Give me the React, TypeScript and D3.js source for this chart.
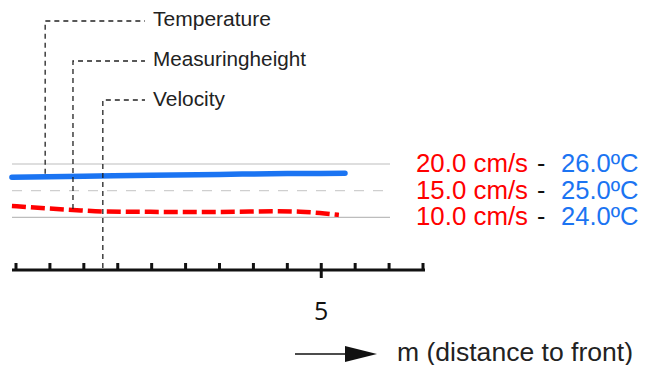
import React from "react";
import * as d3 from "d3";

const W = 652;
const H = 365;

// x axis ticks (metres)
const xTicks = [0.5, 1, 1.5, 2, 2.5, 3, 3.5, 4, 4.5, 5, 5.5, 6, 6.5];
const xMajorTicks = [5];
const xTickLabels = ["5"];
const xAxisTitle = "m (distance to front)";

// Right-hand reference labels
const velocityLevels = [20, 15, 10];
const temperatureLevels = [26, 25, 24];

// Series: temperature (°C) vs distance (m)
const tempX = [0.44, 1.5, 2.5, 3.5, 4.5, 5.35];
const tempY = [25.5, 25.54, 25.58, 25.61, 25.64, 25.65];

// Series: velocity (cm/s) vs distance (m)
const velX = [0.44, 0.93, 1.34, 1.78, 2.48, 3.21, 3.95, 4.29, 4.69, 4.98, 5.26];
const velY = [12.13, 11.7, 11.38, 11.1, 11.02, 11.0, 11.08, 11.15, 11.05, 10.8, 10.44];

// Leader annotations
const leaderNames = ["Temperature", "Measuringheight", "Velocity"];
const leaderX = [0.93, 1.34, 1.78];
const leaderWidths = [118, 153, 72];

export default function App() {
  const x = d3.scaleLinear().domain([0.5, 6.5]).range([16, 423]);
  const yTemp = d3.scaleLinear().domain([24, 26]).range([217.3, 164]);
  const yVel = d3.scaleLinear().domain([10, 20]).range([217.3, 164]);

  const tempData = tempX.map((v, i) => [v, tempY[i]] as [number, number]);
  const velData = velX.map((v, i) => [v, velY[i]] as [number, number]);

  const tempLine = d3
    .line<[number, number]>()
    .x((d) => x(d[0]))
    .y((d) => yTemp(d[1]))
    .curve(d3.curveMonotoneX);
  const velLine = d3
    .line<[number, number]>()
    .x((d) => x(d[0]))
    .y((d) => yVel(d[1]))
    .curve(d3.curveMonotoneX);

  const axisY = 270;
  const font = "Liberation Sans, Arial, sans-serif";

  const interp = (xs: number[], ys: number[], v: number) => {
    for (let i = 0; i < xs.length - 1; i++) {
      if (v >= xs[i] && v <= xs[i + 1]) {
        const t = (v - xs[i]) / (xs[i + 1] - xs[i]);
        return ys[i] + t * (ys[i + 1] - ys[i]);
      }
    }
    return ys[0];
  };
  const leaderBottom = [
    yTemp(interp(tempX, tempY, leaderX[0])) - 3,
    yVel(interp(velX, velY, leaderX[1])) - 1,
    axisY - 2,
  ];
  const leaderTop = [21, 61, 100];
  const leaderBase = [26, 66, 106];

  return (
    <svg
      width={W}
      height={H}
      style={{ position: "absolute", left: 0, top: 0, background: "#fff" }}
    >
      {/* grid lines */}
      {velocityLevels.map((v, i) => (
        <line
          key={"g" + i}
          x1={12}
          x2={390}
          y1={yVel(v)}
          y2={yVel(v)}
          stroke={i === 1 ? "#cfcfcf" : "#bdbdbd"}
          strokeWidth={1.2}
          strokeDasharray={i === 1 ? "10,9" : undefined}
        />
      ))}

      {/* temperature line */}
      <path
        d={tempLine(tempData) || ""}
        fill="none"
        stroke="#1b74f2"
        strokeWidth={5.5}
        strokeLinecap="round"
      />
      {/* velocity line */}
      <path
        d={velLine(velData) || ""}
        fill="none"
        stroke="#ff0000"
        strokeWidth={4.5}
        strokeDasharray="14,5"
      />

      {/* leaders */}
      {leaderNames.map((n, i) => {
        const lx = x(leaderX[i]);
        return (
          <g key={"l" + i}>
            <path
              d={`M${lx},${leaderBottom[i]}V${leaderTop[i]}H145`}
              fill="none"
              stroke="#222"
              strokeWidth={1.3}
              strokeDasharray="5,4"
            />
            <text
              x={153}
              y={leaderBase[i]}
              fontFamily={font}
              fontSize={20.5}
              fill="#222"
              textLength={leaderWidths[i]}
              lengthAdjust="spacingAndGlyphs"
            >
              {n}
            </text>
          </g>
        );
      })}

      {/* x axis */}
      <line x1={12} x2={425} y1={axisY} y2={axisY} stroke="#111" strokeWidth={3} />
      {xTicks.map((t, i) => {
        const major = xMajorTicks.includes(t);
        return (
          <line
            key={"t" + i}
            x1={x(t)}
            x2={x(t)}
            y1={263}
            y2={major ? 278 : axisY}
            stroke="#111"
            strokeWidth={3}
          />
        );
      })}
      {xMajorTicks.map((t, i) => (
        <text
          key={"tl" + i}
          x={x(t)}
          y={320}
          textAnchor="middle"
          fontFamily="Open Sans, sans-serif"
          fontSize={25}
          fill="#111"
        >
          {xTickLabels[i]}
        </text>
      ))}

      {/* right labels */}
      {velocityLevels.map((v, i) => {
        const yb = yVel(v) + 8;
        return (
          <g key={"r" + i}>
            <text
              x={416}
              y={yb}
              fontFamily={font}
              fontSize={25}
              fill="#ff0000"
              textLength={112}
              lengthAdjust="spacingAndGlyphs"
            >
              {v.toFixed(1) + " cm/s"}
            </text>
            <text x={537} y={yb} fontFamily={font} fontSize={25} fill="#111">
              -
            </text>
            <text
              x={561}
              y={yb}
              fontFamily={font}
              fontSize={25}
              fill="#1b74f2"
              textLength={77.5}
              lengthAdjust="spacingAndGlyphs"
            >
              {temperatureLevels[i].toFixed(1) + "ºC"}
            </text>
          </g>
        );
      })}

      {/* axis title with arrow */}
      <line x1={295} x2={346} y1={354} y2={354} stroke="#111" strokeWidth={1.5} />
      <path d="M345,346L377,354L345,362Z" fill="#111" />
      <text
        x={397}
        y={361}
        fontFamily={font}
        fontSize={25}
        fill="#222"
        textLength={236}
        lengthAdjust="spacingAndGlyphs"
      >
        {xAxisTitle}
      </text>
    </svg>
  );
}
